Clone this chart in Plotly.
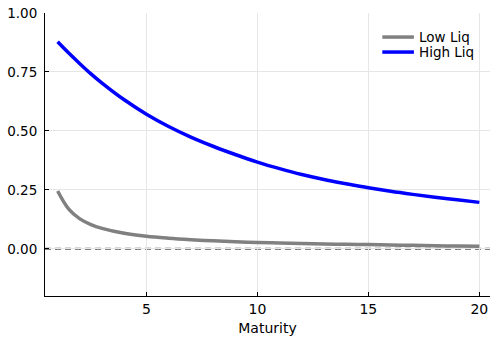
import plotly.graph_objects as go

maturity = [1, 1.5, 2, 2.5, 3, 4, 5, 6, 7, 8, 9, 10, 11, 12, 13, 14, 15, 16, 17, 18, 19, 20]
low_liq = [0.245, 0.168, 0.127, 0.103, 0.087, 0.066, 0.053, 0.045, 0.039, 0.034, 0.030, 0.027,
           0.025, 0.023, 0.021, 0.019, 0.018, 0.016, 0.015, 0.013, 0.012, 0.011]
high_liq = [0.878, 0.830, 0.785, 0.742, 0.703, 0.632, 0.571, 0.519, 0.474, 0.435, 0.400, 0.368,
            0.340, 0.315, 0.294, 0.276, 0.259, 0.244, 0.231, 0.219, 0.208, 0.197]
series_names = ["Low Liq", "High Liq"]
series_colors = ["#808080", "#0000ff"]
y_ticks = [0.0, 0.25, 0.5, 0.75, 1.0]
y_tick_labels = ["0.00", "0.25", "0.50", "0.75", "1.00"]
x_ticks = [5, 10, 15, 20]

FONT = "DejaVu Sans"

fig = go.Figure()
for name, vals, col in zip(series_names, [low_liq, high_liq], series_colors):
    fig.add_trace(go.Scatter(x=maturity, y=vals, mode="lines", name=name,
                             line=dict(color=col, width=3.5, shape="spline", smoothing=1.0)))
fig.add_shape(type="line", xref="paper", yref="y", x0=0, x1=1, y0=0, y1=0,
              line=dict(color="#585858", width=2, dash="6px,4px"), layer="below")

# manual legend (plot area: 45..490 px wide, 13..296 px tall)
leg_y = [0.915, 0.862]
for name, col, yy in zip(series_names, series_colors, leg_y):
    fig.add_shape(type="line", xref="paper", yref="paper", x0=0.758, x1=0.829,
                  y0=yy, y1=yy, line=dict(color=col, width=3.5))
    fig.add_annotation(xref="paper", yref="paper", x=0.836, y=yy, text=name,
                       showarrow=False, xanchor="left", yanchor="middle",
                       font=dict(size=13.5, family=FONT, color="black"))

fig.update_layout(
    width=490, height=337,
    margin=dict(l=45, r=0, t=13, b=41),
    paper_bgcolor="white", plot_bgcolor="white",
    font=dict(family=FONT, size=14, color="black"),
    showlegend=False,
    xaxis=dict(range=[0.43, 20.48], tickvals=x_ticks, showgrid=True,
               gridcolor="#e6e6e6", gridwidth=1, zeroline=False,
               showline=True, linecolor="black", linewidth=1, mirror=False,
               ticks="inside", ticklen=4, tickcolor="black",
               title=dict(text="Maturity", standoff=7, font=dict(size=14)),
               tickfont=dict(size=14)),
    yaxis=dict(range=[-0.2, 1.0], tickvals=y_ticks, ticktext=y_tick_labels,
               showgrid=True, gridcolor="#e6e6e6", gridwidth=1, zeroline=False,
               showline=True, linecolor="black", linewidth=1, mirror=False,
               ticks="inside", ticklen=4, tickcolor="black",
               tickfont=dict(size=13.5), ticklabelstandoff=4),
)

fig.write_html("out.html", config={"displayModeBar": False},
               post_script="document.body.style.margin='0';document.body.style.padding='0';")
